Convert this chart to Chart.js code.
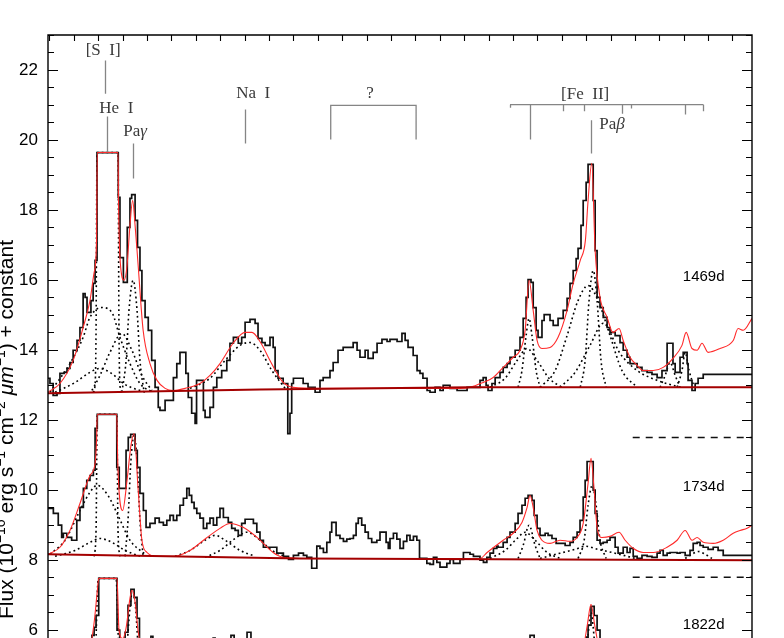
<!DOCTYPE html>
<html>
<head>
<meta charset="utf-8">
<script src="https://cdn.jsdelivr.net/npm/chart.js@4.4.1/dist/chart.umd.min.js"></script>
<style>
  html, body { margin: 0; padding: 0; background: #fff; overflow: hidden; }
  canvas { display: block; }
</style>
</head>
<body>
<canvas id="spec" width="784" height="720"></canvas>
<script>
// wavelength in micron, flux in 1e-16 erg/s/cm2/um (+ offset per epoch)
// observed spectra, one [wave, flux] pair per bin start
const spec1469 = [[1.0594,13.19],[1.0602,13.04],[1.0615,12.70],[1.0631,12.76],[1.0643,13.33],[1.0660,13.36],[1.0672,13.47],[1.0684,13.64],[1.0697,13.99],[1.0713,14.27],[1.0725,14.64],[1.0738,15.61],[1.0746,15.50],[1.0754,15.07],[1.0770,15.41],[1.0779,15.90],[1.0787,16.56],[1.0795,19.64],[1.0882,18.36],[1.0889,16.64],[1.0903,15.93],[1.0919,17.50],[1.0930,18.33],[1.0937,18.44],[1.0951,17.70],[1.0961,16.93],[1.0971,16.27],[1.0979,15.41],[1.0992,14.93],[1.1005,14.56],[1.1019,13.70],[1.1033,12.93],[1.1046,12.36],[1.1053,12.27],[1.1074,12.56],[1.1108,13.21],[1.1122,13.61],[1.1135,13.93],[1.1159,13.33],[1.1169,12.64],[1.1183,12.19],[1.1197,11.90],[1.1203,13.13],[1.1231,12.27],[1.1238,12.07],[1.1258,12.36],[1.1272,12.93],[1.1286,13.21],[1.1306,13.41],[1.1327,13.70],[1.1340,14.19],[1.1354,14.36],[1.1374,14.19],[1.1388,14.36],[1.1402,14.79],[1.1422,14.87],[1.1443,14.76],[1.1455,14.33],[1.1471,14.21],[1.1484,14.13],[1.1504,14.36],[1.1517,14.07],[1.1525,13.41],[1.1537,13.19],[1.1558,13.04],[1.1577,11.61],[1.1586,12.19],[1.1593,13.04],[1.1600,13.19],[1.1640,13.04],[1.1660,12.93],[1.1689,12.79],[1.1709,13.13],[1.1722,13.21],[1.1750,13.41],[1.1763,13.64],[1.1783,13.99],[1.1804,14.07],[1.1845,14.21],[1.1861,13.99],[1.1873,13.79],[1.1894,13.99],[1.1906,13.76],[1.1927,13.93],[1.1943,14.19],[1.1963,14.30],[1.1984,14.24],[1.1996,14.30],[1.2025,14.24],[1.2045,14.47],[1.2058,14.27],[1.2070,14.07],[1.2091,13.84],[1.2107,13.41],[1.2119,13.33],[1.2131,13.19],[1.2148,12.84],[1.2160,12.79],[1.2181,12.93],[1.2201,12.84],[1.2214,12.99],[1.2242,12.90],[1.2271,12.84],[1.2312,12.93],[1.2365,13.13],[1.2378,13.21],[1.2390,12.99],[1.2398,12.84],[1.2414,13.04],[1.2427,13.21],[1.2447,13.36],[1.2460,13.50],[1.2476,13.61],[1.2488,13.79],[1.2509,13.99],[1.2529,14.36],[1.2542,14.90],[1.2554,15.50],[1.2562,16.01],[1.2574,15.93],[1.2583,15.21],[1.2595,14.56],[1.2603,14.36],[1.2619,14.84],[1.2628,15.01],[1.2652,14.84],[1.2665,14.70],[1.2685,14.90],[1.2706,15.13],[1.2722,15.47],[1.2734,15.90],[1.2747,16.27],[1.2759,16.61],[1.2767,16.90],[1.2779,17.56],[1.2788,18.27],[1.2800,18.79],[1.2808,19.30],[1.2829,18.27],[1.2837,16.84],[1.2845,15.50],[1.2857,15.21],[1.2870,14.93],[1.2886,14.64],[1.2898,14.50],[1.2919,14.41],[1.2939,14.21],[1.2952,13.99],[1.2968,13.79],[1.2980,13.61],[1.3009,13.50],[1.3029,13.41],[1.3050,13.36],[1.3070,13.30],[1.3091,13.21],[1.3111,13.41],[1.3132,14.19],[1.3156,13.61],[1.3165,13.36],[1.3185,13.79],[1.3198,13.93],[1.3214,13.61],[1.3218,13.13],[1.3234,12.84],[1.3247,13.04],[1.3259,13.19],[1.3280,13.30],[1.3480,13.30]];

const spec1734 = [[1.0594,9.47],[1.0616,9.33],[1.0636,8.99],[1.0650,8.64],[1.0657,8.76],[1.0671,8.64],[1.0691,8.56],[1.0712,9.13],[1.0725,9.50],[1.0739,10.04],[1.0753,10.27],[1.0766,10.41],[1.0780,10.56],[1.0787,11.76],[1.0796,12.16],[1.0876,10.64],[1.0886,10.04],[1.0914,11.13],[1.0923,11.50],[1.0933,11.59],[1.0951,11.13],[1.0960,10.64],[1.0971,9.90],[1.0985,9.41],[1.0996,8.93],[1.1012,9.04],[1.1033,9.19],[1.1050,9.07],[1.1067,8.99],[1.1081,9.13],[1.1094,9.27],[1.1108,9.13],[1.1122,9.27],[1.1135,9.56],[1.1149,9.76],[1.1163,10.04],[1.1173,9.84],[1.1183,9.64],[1.1193,9.47],[1.1204,9.33],[1.1217,9.19],[1.1231,8.90],[1.1245,9.04],[1.1258,9.19],[1.1272,8.99],[1.1286,9.21],[1.1299,9.47],[1.1313,9.21],[1.1333,9.07],[1.1347,8.90],[1.1361,8.84],[1.1374,8.70],[1.1388,9.04],[1.1402,9.16],[1.1436,9.04],[1.1450,8.79],[1.1463,8.56],[1.1477,8.36],[1.1532,8.19],[1.1559,8.10],[1.1580,8.01],[1.1600,8.13],[1.1621,8.19],[1.1641,8.13],[1.1655,8.07],[1.1675,7.76],[1.1696,8.39],[1.1709,8.33],[1.1723,8.21],[1.1737,8.50],[1.1750,8.79],[1.1757,9.07],[1.1775,8.70],[1.1791,8.61],[1.1805,8.53],[1.1819,8.59],[1.1832,8.61],[1.1846,8.70],[1.1857,9.04],[1.1866,9.19],[1.1880,8.99],[1.1894,8.79],[1.1907,8.61],[1.1921,8.50],[1.1942,8.56],[1.1955,8.79],[1.1980,8.50],[1.1989,8.33],[1.1996,8.61],[1.2010,8.76],[1.2024,8.59],[1.2037,8.33],[1.2051,8.53],[1.2065,8.70],[1.2078,8.56],[1.2092,8.67],[1.2106,8.56],[1.2117,8.04],[1.2147,7.90],[1.2160,7.87],[1.2174,8.07],[1.2188,7.93],[1.2201,7.79],[1.2229,7.90],[1.2242,8.01],[1.2256,7.90],[1.2283,8.01],[1.2297,8.21],[1.2324,8.16],[1.2338,8.10],[1.2365,7.99],[1.2379,7.93],[1.2393,8.07],[1.2406,8.19],[1.2420,8.33],[1.2434,8.39],[1.2439,8.36],[1.2460,8.50],[1.2476,8.64],[1.2488,8.79],[1.2509,9.04],[1.2521,9.33],[1.2537,9.56],[1.2550,9.76],[1.2562,9.84],[1.2578,9.70],[1.2587,9.27],[1.2599,8.90],[1.2611,8.70],[1.2632,8.76],[1.2644,8.70],[1.2660,8.61],[1.2677,8.47],[1.2693,8.47],[1.2714,8.41],[1.2734,8.50],[1.2747,8.64],[1.2763,8.79],[1.2775,9.13],[1.2788,9.79],[1.2796,10.27],[1.2804,10.81],[1.2829,9.99],[1.2837,9.33],[1.2845,8.56],[1.2857,8.47],[1.2870,8.50],[1.2886,8.56],[1.2898,8.64],[1.2919,8.36],[1.2931,8.19],[1.2952,8.36],[1.2968,8.21],[1.2980,8.33],[1.2993,8.10],[1.3009,8.04],[1.3029,8.13],[1.3050,8.10],[1.3070,8.07],[1.3091,8.19],[1.3103,8.27],[1.3116,8.13],[1.3132,8.19],[1.3144,8.21],[1.3173,8.19],[1.3185,8.21],[1.3206,8.13],[1.3226,8.27],[1.3239,8.47],[1.3255,8.50],[1.3267,8.41],[1.3280,8.36],[1.3300,8.30],[1.3321,8.36],[1.3341,8.27],[1.3362,8.13],[1.3382,8.13],[1.3480,8.13]];

const spec1822 = [[1.0594,5.56],[1.0774,5.84],[1.0783,6.07],[1.0791,6.41],[1.0802,7.47],[1.0877,5.99],[1.0888,5.70],[1.0910,5.93],[1.0922,6.70],[1.0934,7.16],[1.0947,6.93],[1.0959,6.33],[1.0969,5.56],[1.1016,5.81],[1.1024,5.56],[1.1271,5.76],[1.1279,5.56],[1.1344,5.84],[1.1357,5.56],[1.1410,5.93],[1.1426,5.56],[1.2570,5.84],[1.2587,5.56],[1.2800,5.79],[1.2808,6.13],[1.2820,6.67],[1.2833,6.41],[1.2845,5.99],[1.2857,5.56],[1.3480,5.56]];

// total line-fit models (red)
const model1469W = [1.0594,1.0643,1.0697,1.0738,1.0766,1.0783,1.0793,1.0796,1.0881,1.0883,1.0889,1.0906,1.0918,1.0930,1.0941,1.0951,1.0963,1.0984,1.1012,1.1041,1.1074,1.1107,1.1156,1.1217,1.1258,1.1299,1.1353,1.1402,1.1430,1.1463,1.1504,1.1533,1.1558,1.1599,1.1709,1.2283,1.2324,1.2378,1.2419,1.2460,1.2501,1.2529,1.2550,1.2566,1.2583,1.2599,1.2619,1.2652,1.2685,1.2722,1.2747,1.2776,1.2797,1.2808,1.2823,1.2837,1.2857,1.2886,1.2910,1.2935,1.2952,1.2980,1.3009,1.3034,1.3075,1.3116,1.3156,1.3193,1.3210,1.3234,1.3255,1.3275,1.3300,1.3349,1.3403,1.3423,1.3444,1.3480];
const model1469F = [12.79,13.04,13.70,14.64,15.41,16.21,17.13,19.64,19.64,18.27,16.64,15.99,16.41,17.56,18.27,17.56,16.47,14.56,13.61,13.13,12.90,12.84,12.90,13.04,13.27,13.61,14.19,14.50,14.50,14.24,13.70,13.33,13.07,12.93,12.90,12.90,12.93,13.07,13.21,13.50,13.79,13.99,14.56,15.99,15.13,14.27,14.04,14.07,14.36,15.13,15.90,16.56,17.13,18.27,19.33,16.84,15.50,14.93,14.50,14.61,14.27,13.79,13.56,13.41,13.41,13.50,13.76,14.13,14.50,14.04,13.99,14.19,13.93,14.04,14.27,14.61,14.56,14.90];

const model1734W = [1.0594,1.0643,1.0684,1.0725,1.0766,1.0787,1.0793,1.0796,1.0876,1.0878,1.0881,1.0900,1.0918,1.0934,1.0947,1.0963,1.0979,1.1000,1.1041,1.1107,1.1176,1.1246,1.1299,1.1340,1.1394,1.1451,1.1517,1.1558,1.1627,1.2365,1.2394,1.2460,1.2501,1.2537,1.2558,1.2570,1.2583,1.2599,1.2619,1.2652,1.2693,1.2734,1.2763,1.2788,1.2808,1.2820,1.2833,1.2845,1.2865,1.2898,1.2935,1.2960,1.2993,1.3034,1.3075,1.3132,1.3173,1.3206,1.3234,1.3255,1.3280,1.3321,1.3362,1.3403,1.3431,1.3460,1.3480];
const model1734F = [8.16,8.36,8.84,9.61,10.41,10.76,11.41,12.16,12.16,11.41,10.56,9.41,10.27,11.27,11.61,10.07,8.56,8.21,8.10,8.10,8.27,8.64,8.90,9.04,8.93,8.64,8.21,8.07,8.04,8.04,8.21,8.56,8.76,9.07,9.50,9.84,9.50,8.84,8.56,8.47,8.56,8.53,8.64,9.04,10.19,10.90,9.99,8.93,8.64,8.67,8.79,8.56,8.33,8.21,8.21,8.36,8.56,8.84,8.56,8.64,8.50,8.47,8.56,8.76,8.84,8.90,8.99];

const model1822 = [[1.0594,5.56],[1.0766,5.56],[1.0783,6.20],[1.0796,7.10],[1.0802,7.47],[1.0877,7.47],[1.0885,6.00],[1.0900,5.75],[1.0914,6.05],[1.0930,6.90],[1.0938,7.13],[1.0951,6.80],[1.0963,5.99],[1.0975,5.56],[1.2788,5.56],[1.2804,6.10],[1.2820,6.73],[1.2836,6.10],[1.2853,5.56],[1.3480,5.56]];

// individual fit components (dotted)
const dots1469 = [
  [[1.0602,12.79],[1.0684,13.61],[1.0738,14.36],[1.0766,14.93],[1.0815,15.21],[1.0856,15.07],[1.0889,14.36],[1.0930,13.61],[1.0971,13.04],[1.1025,12.79]],
  [[1.0779,12.79],[1.0787,12.99],[1.0791,14.56],[1.0795,19.64],[1.0881,19.64],[1.0885,14.56],[1.0889,12.99],[1.0897,12.79]],
  [[1.0897,12.79],[1.0914,13.70],[1.0926,15.13],[1.0943,15.99],[1.0959,15.13],[1.0971,13.70],[1.0988,12.79]],
  [[1.0774,12.84],[1.0807,13.27],[1.0848,13.93],[1.0897,14.47],[1.0938,13.99],[1.0979,13.27],[1.1020,12.84]],
  [[1.0623,12.79],[1.0705,13.07],[1.0766,13.36],[1.0807,13.47],[1.0848,13.36],[1.0910,13.01],[1.0992,12.79]],
  [[1.1176,12.90],[1.1258,13.19],[1.1320,13.70],[1.1381,14.13],[1.1422,14.21],[1.1463,13.99],[1.1512,13.41],[1.1566,12.90]],
  [[1.2521,12.93],[1.2537,13.41],[1.2554,14.41],[1.2566,14.90],[1.2578,14.41],[1.2595,13.41],[1.2611,12.93]],
  [[1.2406,12.93],[1.2468,13.19],[1.2517,13.70],[1.2558,14.04],[1.2599,13.70],[1.2648,13.19],[1.2701,12.93]],
  [[1.2611,12.93],[1.2673,13.41],[1.2722,14.41],[1.2767,15.41],[1.2808,15.84],[1.2849,15.41],[1.2898,14.41],[1.2947,13.41],[1.3009,12.93]],
  [[1.2776,12.93],[1.2796,13.70],[1.2812,15.41],[1.2829,16.27],[1.2845,15.41],[1.2861,13.70],[1.2882,12.93]],
  [[1.2693,12.93],[1.2755,13.36],[1.2816,14.13],[1.2870,14.76],[1.2939,13.90],[1.3009,13.41],[1.3091,13.13],[1.3185,12.93]],
  [[1.3103,12.93],[1.3124,13.27],[1.3144,13.64],[1.3165,13.27],[1.3185,12.93]],
  [[1.3173,12.93],[1.3193,13.41],[1.3206,13.93],[1.3222,13.41],[1.3243,12.93]]
];
const dots1734 = [
  [[1.0602,8.16],[1.0664,8.56],[1.0725,9.41],[1.0766,9.93],[1.0795,10.13],[1.0840,9.84],[1.0881,9.27],[1.0930,8.56],[1.0992,8.16]],
  [[1.0623,8.10],[1.0705,8.27],[1.0766,8.50],[1.0807,8.61],[1.0856,8.50],[1.0910,8.27],[1.0971,8.10]],
  [[1.0783,8.10],[1.0791,8.84],[1.0796,12.16],[1.0876,12.16],[1.0881,8.84],[1.0889,8.10]],
  [[1.0910,8.10],[1.0922,9.13],[1.0934,10.84],[1.0947,11.56],[1.0959,10.84],[1.0971,9.13],[1.0984,8.10]],
  [[1.1115,8.10],[1.1176,8.27],[1.1238,8.56],[1.1279,8.70],[1.1320,8.56],[1.1381,8.27],[1.1443,8.10]],
  [[1.1238,8.07],[1.1299,8.27],[1.1361,8.61],[1.1410,8.79],[1.1455,8.61],[1.1512,8.27],[1.1574,8.07]],
  [[1.2521,8.04],[1.2542,8.41],[1.2566,8.99],[1.2591,8.41],[1.2611,8.04]],
  [[1.2406,8.04],[1.2468,8.27],[1.2517,8.61],[1.2550,8.79],[1.2591,8.56],[1.2640,8.21],[1.2693,8.04]],
  [[1.2767,8.04],[1.2792,8.56],[1.2808,9.56],[1.2825,10.13],[1.2841,9.56],[1.2857,8.56],[1.2882,8.04]],
  [[1.2611,8.04],[1.2693,8.19],[1.2755,8.30],[1.2796,8.39],[1.2849,8.30],[1.2919,8.19],[1.3001,8.04]],
  [[1.3206,8.04],[1.3234,8.16],[1.3259,8.24],[1.3288,8.16],[1.3316,8.04]]
];
const dots1822 = [
  [[1.0790,5.56],[1.0800,7.47],[1.0873,7.47],[1.0883,5.56]],
  [[1.0918,5.56],[1.0934,6.90],[1.0942,7.05],[1.0951,6.80],[1.0963,5.56]],
  [[1.2804,5.56],[1.2820,6.50],[1.2836,5.56]]
];

// continuum levels
const base1469 = [[1.0594,12.76],[1.1463,12.87],[1.2324,12.93],[1.3480,12.93]];
const base1734 = [[1.0594,8.16],[1.1627,8.04],[1.3480,7.99]];
const cutLevels = [11.5, 7.5];
const cutWave = [1.2991, 1.3480];

// epoch labels
const epochs = ['1469d', '1734d', '1822d'];
const epochFlux = [16.08, 10.10, 6.13];
const epochWave = 1.3282;

// line identifications
const idText = ['[S  I]', 'He  I', 'Paγ', 'Na  I', '?', '[Fe  II]', 'Paβ'];
const idWave = [1.0820, 1.0874, 1.0951, 1.1435, 1.1914, 1.2796, 1.2906];
const idFlux = [22.55, 20.91, 20.24, 21.33, 21.33, 21.31, 20.44];
const markWave = [1.0828, 1.0837, 1.0944, 1.1402, 1.2820];
const markTop = [22.27, 20.67, 19.90, 20.87, 20.56];
const markBottom = [21.32, 19.65, 18.90, 19.90, 19.61];
const qWave = [1.1753, 1.2103];
const qTop = 20.99, qBottom = 20.01;
const feWave = [1.2488, 1.2570, 1.2704, 1.2792, 1.2946, 1.2983, 1.3206, 1.3281];
const feBottom = [20.92, 20.01, 20.82, 20.82, 20.75, 20.90, 20.73, 20.82];
const feLevel = 21.01;

const pairs = a => a.map(p => ({x: p[0], y: p[1]}));
const zip = (w, f) => w.map((x, i) => ({x: x, y: f[i]}));

const datasets = [];
[base1469, base1734].forEach(b => datasets.push({
  data: pairs(b), borderColor: '#a40000', borderWidth: 2, order: 0
}));
[zip(model1469W, model1469F), zip(model1734W, model1734F), pairs(model1822)].forEach(m => datasets.push({
  data: m, borderColor: '#ff2a2a', borderWidth: 1.1, cubicInterpolationMode: 'monotone', order: 1
}));
[spec1469, spec1734, spec1822].forEach(s => datasets.push({
  data: pairs(s), borderColor: '#111', borderWidth: 1.7, stepped: true, order: 2
}));
dots1469.concat(dots1734, dots1822).forEach(c => datasets.push({
  data: pairs(c), borderColor: '#000', borderWidth: 1.6, borderDash: [1.8, 3],
  cubicInterpolationMode: 'monotone', order: 3
}));
cutLevels.forEach(v => datasets.push({
  data: cutWave.map(w => ({x: w, y: v})), borderColor: '#111', borderWidth: 1.5,
  borderDash: [7, 6], order: 3
}));

const decor = {
  id: 'decor',
  afterDatasetsDraw(chart) {
    const {ctx, chartArea: a, scales: {x, y}} = chart;
    ctx.save();
    ctx.strokeStyle = '#000';
    ctx.lineWidth = 1.4;
    ctx.beginPath();
    ctx.moveTo(a.left, a.bottom);
    ctx.lineTo(a.left, a.top);
    ctx.lineTo(a.right, a.top);
    ctx.lineTo(a.right, a.bottom);
    ctx.stroke();

    // y ticks both sides, inward
    ctx.lineWidth = 1.1;
    ctx.beginPath();
    for (let v = 4; v <= 23; v += 0.5) {
      const py = Math.round(y.getPixelForValue(v)) + 0.5;
      const len = v % 2 === 0 ? 10 : 6;
      ctx.moveTo(a.left, py); ctx.lineTo(a.left + len, py);
      ctx.moveTo(a.right, py); ctx.lineTo(a.right - len, py);
    }
    // top ticks every 0.01 micron
    for (let k = 106; k <= 134; k++) {
      const px = Math.round(x.getPixelForValue(k / 100)) + 0.5;
      ctx.moveTo(px, a.top); ctx.lineTo(px, a.top + 6);
    }
    ctx.stroke();

    // y title (rotated)
    ctx.fillStyle = '#000';
    ctx.textBaseline = 'alphabetic';
    ctx.translate(12.5, 240);
    ctx.rotate(-Math.PI / 2);
    const parts = [
      ['Flux (10', '21px', 0], ['−16', '14px', -8], [' erg s', '21px', 0], ['−1', '14px', -8],
      [' cm', '21px', 0], ['−2', '14px', -8], [' ', '21px', 0], ['μm', 'italic 21px', 0],
      ['−1', '14px', -8], [') + constant', '21px', 0]
    ];
    let total = 0;
    parts.forEach(p => { ctx.font = p[1] + ' "Liberation Sans", Arial, sans-serif'; total += ctx.measureText(p[0]).width; });
    let cx = -total;
    parts.forEach(p => {
      ctx.font = p[1] + ' "Liberation Sans", Arial, sans-serif';
      ctx.fillText(p[0], cx, p[2]);
      cx += ctx.measureText(p[0]).width;
    });
    ctx.restore();

    // line identifications
    ctx.save();
    ctx.strokeStyle = '#858585';
    ctx.lineWidth = 1.3;
    ctx.beginPath();
    markWave.forEach((w, i) => {
      const px = Math.round(x.getPixelForValue(w)) + 0.5;
      ctx.moveTo(px, y.getPixelForValue(markTop[i]));
      ctx.lineTo(px, y.getPixelForValue(markBottom[i]));
    });
    const q0 = x.getPixelForValue(qWave[0]), q1 = x.getPixelForValue(qWave[1]);
    ctx.moveTo(q0, y.getPixelForValue(qBottom));
    ctx.lineTo(q0, y.getPixelForValue(qTop));
    ctx.lineTo(q1, y.getPixelForValue(qTop));
    ctx.lineTo(q1, y.getPixelForValue(qBottom));
    const fy = y.getPixelForValue(feLevel);
    ctx.moveTo(x.getPixelForValue(feWave[0]), fy);
    ctx.lineTo(x.getPixelForValue(feWave[feWave.length - 1]), fy);
    feWave.forEach((w, i) => {
      const px = Math.round(x.getPixelForValue(w)) + 0.5;
      ctx.moveTo(px, fy);
      ctx.lineTo(px, y.getPixelForValue(feBottom[i]));
    });
    ctx.stroke();

    ctx.fillStyle = '#3a3a3a';
    ctx.textBaseline = 'middle';
    const serif = '"Liberation Serif", "DejaVu Serif", serif';
    idText.forEach((t, i) => {
      const cxp = x.getPixelForValue(idWave[i]);
      const cyp = y.getPixelForValue(idFlux[i]);
      if (t.startsWith('Pa')) {
        ctx.font = '17px ' + serif;
        const w1 = ctx.measureText('Pa').width;
        ctx.font = 'italic 17px ' + serif;
        const w2 = ctx.measureText(t.slice(2)).width;
        const sx = cxp - (w1 + w2) / 2;
        ctx.textAlign = 'left';
        ctx.font = '17px ' + serif;
        ctx.fillText('Pa', sx, cyp);
        ctx.font = 'italic 17px ' + serif;
        ctx.fillText(t.slice(2), sx + w1, cyp);
      } else {
        ctx.font = '17px ' + serif;
        ctx.textAlign = 'center';
        ctx.fillText(t, cxp, cyp);
      }
    });

    // epoch labels
    ctx.fillStyle = '#000';
    ctx.textAlign = 'center';
    ctx.font = '15px "Liberation Sans", Arial, sans-serif';
    epochs.forEach((t, i) => {
      ctx.fillText(t, x.getPixelForValue(epochWave), y.getPixelForValue(epochFlux[i]));
    });
    ctx.restore();
  }
};

new Chart(document.getElementById('spec'), {
  type: 'line',
  data: { datasets: datasets },
  options: {
    responsive: false,
    animation: false,
    devicePixelRatio: 1,
    layout: { padding: { left: 0, right: 32, top: 35, bottom: 20 } },
    elements: { point: { radius: 0 }, line: { fill: false, tension: 0 } },
    plugins: { legend: { display: false }, tooltip: { enabled: false } },
    scales: {
      x: { type: 'linear', min: 1.0594, max: 1.348, display: false },
      y: {
        min: 4, max: 23,
        afterFit: s => { s.width = 48; },
        grid: { display: false, drawTicks: false },
        border: { display: false },
        ticks: {
          stepSize: 2, includeBounds: false, padding: 10, color: '#000',
          font: { family: '"Liberation Sans", Arial, sans-serif', size: 17 }
        }
      }
    }
  },
  plugins: [decor]
});
</script>
</body>
</html>
